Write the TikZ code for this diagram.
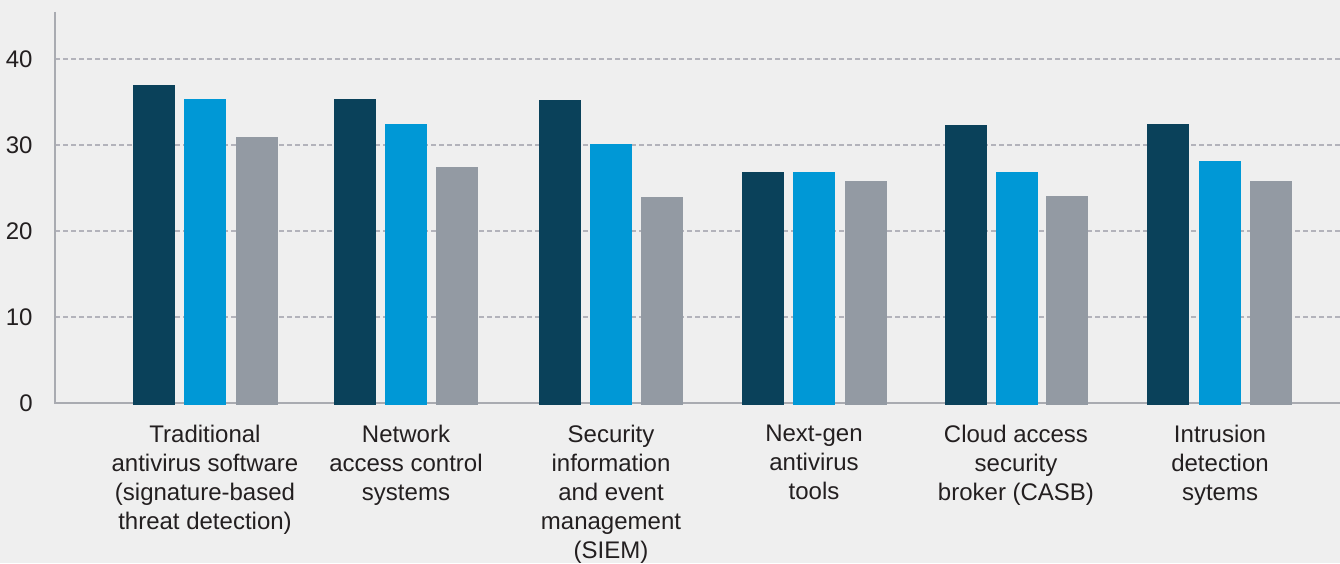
\documentclass[tikz,border=0pt]{standalone}
\usepackage{fontspec}
\setmainfont{Liberation Sans}
\usepackage{tikz}

\definecolor{bgcol}{HTML}{EFEFEF}
\definecolor{bardark}{HTML}{0A415A}
\definecolor{barblue}{HTML}{0098D6}
\definecolor{bargray}{HTML}{939AA3}
\definecolor{gridcol}{HTML}{B3B3BB}
\definecolor{axiscol}{HTML}{A9ABB1}
\definecolor{textcol}{HTML}{231F20}

\begin{document}
\begin{tikzpicture}[x=0.5pt, y=0.5pt,
	darkbar/.style = {fill = bardark},
	bluebar/.style = {fill = barblue},
	graybar/.style = {fill = bargray},
	gridline/.style = {draw = gridcol, line width = 0.65pt, dash pattern = on 2.5pt off 1.5pt},
	axisline/.style = {draw = axiscol, line width = 0.75pt},
	catlabel/.style = {anchor = north, align = center, inner sep = 0pt, text = textcol,
		font = \fontsize{12}{14.5}\selectfont},
	ticklabel/.style = {anchor = east, inner sep = 0pt, text = textcol,
		font = \fontsize{12}{14.5}\selectfont}]

\fill[bgcol] (0, 0) rectangle (1340, 563);
\useasboundingbox (0, 0) rectangle (1340, 563);

\draw[gridline] (55, 504) -- (1340, 504);
\draw[gridline] (55, 418) -- (1340, 418);
\draw[gridline] (55, 332) -- (1340, 332);
\draw[gridline] (55, 246) -- (1340, 246);

\draw[axisline] (55, 551) -- (55, 160) -- (1340, 160);

\node[ticklabel] (tick40) at (33, 504) {40};
\node[ticklabel] (tick30) at (33, 418) {30};
\node[ticklabel] (tick20) at (33, 332) {20};
\node[ticklabel] (tick10) at (33, 246) {10};
\node[ticklabel] (tick0) at (33, 160) {0};

\fill[darkbar] (133, 158) rectangle (175, 478);
\fill[bluebar] (184, 158) rectangle (226, 464);
\fill[graybar] (236, 158) rectangle (278, 426);

\fill[darkbar] (334, 158) rectangle (376, 464);
\fill[bluebar] (385, 158) rectangle (427, 439);
\fill[graybar] (436, 158) rectangle (478, 396);

\fill[darkbar] (539, 158) rectangle (581, 463);
\fill[bluebar] (590, 158) rectangle (632, 419);
\fill[graybar] (641, 158) rectangle (683, 366);

\fill[darkbar] (742, 158) rectangle (784, 391);
\fill[bluebar] (793, 158) rectangle (835, 391);
\fill[graybar] (845, 158) rectangle (887, 382);

\fill[darkbar] (945, 158) rectangle (987, 438);
\fill[bluebar] (996, 158) rectangle (1038, 391);
\fill[graybar] (1046, 158) rectangle (1088, 367);

\fill[darkbar] (1147, 158) rectangle (1189, 439);
\fill[bluebar] (1199, 158) rectangle (1241, 402);
\fill[graybar] (1250, 158) rectangle (1292, 382);

\node[catlabel] (lbl1) at (205, 138) {Traditional\\antivirus software\\(signature-based\\threat detection)};
\node[catlabel] (lbl2) at (406, 138) {Network\\access control\\systems};
\node[catlabel] (lbl3) at (611, 138) {Security\\information\\and event\\management\\(SIEM)};
\node[catlabel] (lbl4) at (814, 138) {Next-gen\\antivirus\\tools};
\node[catlabel] (lbl5) at (1016, 138) {Cloud access\\security\\broker (CASB)};
\node[catlabel] (lbl6) at (1220, 138) {Intrusion\\detection\\sytems};

\end{tikzpicture}
\end{document}
